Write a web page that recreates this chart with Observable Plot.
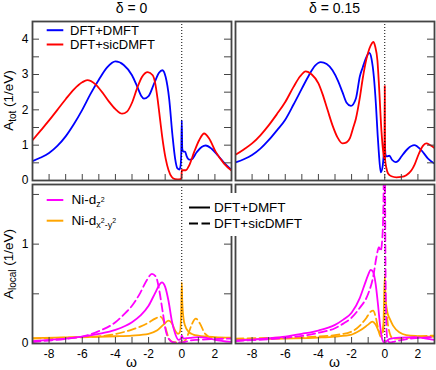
<!DOCTYPE html>
<html><head><meta charset="utf-8">
<script src="https://cdn.jsdelivr.net/npm/d3@7"></script>
<script src="https://cdn.jsdelivr.net/npm/@observablehq/plot@0.6"></script>
<style>
body{margin:0;background:#fff;}
#chart{position:relative;width:436px;height:370px;overflow:hidden;}
#chart svg{position:absolute;left:0;top:0;}
</style></head><body><div id="chart"></div>
<script>
// ---- data: [omega, A] ----
// delta = 0, total spectral function
const tot0_dmft = [[-9,0.55],[-8.5,0.65],[-8,0.78],[-7.5,0.98],[-7,1.25],[-6.5,1.6],[-6,2.0],[-5.5,2.45],[-5,2.85],[-4.5,3.2],[-4,3.37],[-3.5,3.27],[-3,2.98],[-2.68,2.65],[-2.45,2.4],[-2.28,2.32],[-2.0,2.39],[-1.67,2.74],[-1.37,3.05],[-1.17,3.12],[-0.97,2.93],[-0.76,2.32],[-0.56,1.28],[-0.4,0.62],[-0.26,0.34],[-0.14,0.31],[-0.07,0.42],[-0.03,0.8],[0,1.7],[0.03,0.9],[0.1,0.82],[0.2,0.82],[0.3,0.68],[0.45,0.59],[0.6,0.6],[0.9,0.8],[1.2,0.95],[1.45,0.99],[1.8,0.9],[2.2,0.7],[2.6,0.48],[3.0,0.3]];
const tot0_sic = [[-9,1.14],[-8.5,1.42],[-8,1.7],[-7.5,2.0],[-7,2.3],[-6.5,2.58],[-6,2.78],[-5.7,2.84],[-5.2,2.72],[-4.8,2.5],[-4.4,2.24],[-4,2.02],[-3.6,1.89],[-3.3,1.95],[-3.0,2.2],[-2.7,2.6],[-2.4,2.93],[-2.05,3.07],[-1.75,2.98],[-1.6,2.75],[-1.46,2.32],[-1.3,1.7],[-1.19,1.28],[-0.97,0.62],[-0.8,0.3],[-0.6,0.1],[-0.4,0.04],[-0.15,0.03],[-0.02,0.06],[0,0.3],[0.05,0.29],[0.25,0.29],[0.45,0.43],[0.75,0.81],[1.05,1.14],[1.35,1.33],[1.65,1.19],[2.05,0.81],[2.55,0.48],[3.0,0.28]];
// delta = 0.15, total spectral function
const tot15_dmft = [[-9,0.51],[-8.5,0.6],[-8,0.72],[-7.5,0.9],[-7,1.14],[-6.5,1.42],[-6,1.72],[-5.5,2.15],[-5,2.6],[-4.57,2.98],[-4.2,3.25],[-3.86,3.35],[-3.5,3.3],[-3.15,3.12],[-2.8,2.8],[-2.55,2.5],[-2.3,2.2],[-2.04,2.11],[-1.74,2.32],[-1.5,2.95],[-1.33,3.2],[-1.1,3.5],[-0.93,3.61],[-0.8,3.45],[-0.65,2.9],[-0.53,2.13],[-0.43,1.3],[-0.36,0.81],[-0.24,0.23],[-0.12,0.43],[-0.04,0.85],[0,1.1],[0.04,0.75],[0.1,0.68],[0.28,0.7],[0.45,0.58],[0.65,0.52],[0.8,0.55],[0.99,0.67],[1.39,0.9],[1.78,1.0],[2.2,0.86],[2.61,0.62],[3.0,0.48]];
const tot15_sic = [[-9,0.73],[-8.5,0.88],[-8,1.05],[-7.5,1.28],[-7,1.56],[-6.5,1.88],[-6,2.22],[-5.5,2.65],[-5.1,2.95],[-4.77,3.09],[-4.4,3.0],[-4.0,2.75],[-3.76,2.46],[-3.45,2.0],[-3.15,1.56],[-2.85,1.22],[-2.55,1.05],[-2.3,1.08],[-2.1,1.2],[-1.9,1.5],[-1.74,1.75],[-1.5,2.35],[-1.33,2.88],[-1.1,3.45],[-0.93,3.73],[-0.78,3.88],[-0.69,3.92],[-0.58,3.8],[-0.44,3.39],[-0.34,2.63],[-0.2,1.41],[-0.08,0.76],[-0.02,0.62],[0,2.68],[0.02,0.6],[0.1,0.35],[0.2,0.2],[0.4,0.12],[0.7,0.09],[1.0,0.1],[1.3,0.15],[1.6,0.28],[1.8,0.45],[2.05,0.75],[2.3,0.98],[2.5,1.05],[2.75,1.0],[3.0,0.92]];
// delta = 0, local orbital spectral functions
const loc0_z2_dmft = [[-9,0.023],[-8,0.037],[-7,0.05],[-6,0.07],[-5,0.097],[-4,0.137],[-3,0.214],[-2.5,0.28],[-2,0.38],[-1.6,0.51],[-1.35,0.59],[-1.2,0.615],[-1.0,0.57],[-0.8,0.43],[-0.6,0.23],[-0.4,0.1],[-0.2,0.037],[-0.05,0.05],[0,0.08],[0.1,0.05],[0.5,0.057],[1.0,0.064],[1.5,0.057],[2,0.037],[3,0.015]];
const loc0_z2_sic = [[-9,0.015],[-8,0.03],[-7,0.047],[-6,0.07],[-5,0.124],[-4,0.214],[-3.5,0.29],[-3,0.38],[-2.5,0.51],[-2.1,0.64],[-1.8,0.7],[-1.55,0.67],[-1.35,0.53],[-1.15,0.32],[-0.95,0.12],[-0.75,0.04],[-0.5,0.012],[0,0.01],[0.5,0.03],[1,0.037],[2,0.045],[3,0.05]];
const loc0_x2_dmft = [[-9,0.055],[-7,0.062],[-5,0.068],[-4,0.073],[-3,0.08],[-2,0.097],[-1.5,0.13],[-1.1,0.19],[-0.8,0.23],[-0.6,0.205],[-0.4,0.13],[-0.22,0.097],[-0.1,0.12],[-0.03,0.35],[0,0.615],[0.03,0.43],[0.1,0.26],[0.2,0.18],[0.4,0.12],[0.7,0.09],[1,0.08],[2,0.065],[3,0.06]];
const loc0_x2_sic = [[-9,0.05],[-7,0.058],[-5,0.072],[-4,0.095],[-3,0.14],[-2.5,0.17],[-2,0.21],[-1.6,0.25],[-1.3,0.27],[-1.1,0.23],[-0.95,0.14],[-0.8,0.06],[-0.6,0.02],[-0.3,0.01],[0,0.01],[0.2,0.03],[0.4,0.1],[0.6,0.19],[0.85,0.25],[1.1,0.2],[1.4,0.1],[1.8,0.06],[2.5,0.055],[3,0.055]];
// delta = 0.15, local orbital spectral functions
const loc15_z2_dmft = [[-9,0.03],[-8,0.04],[-7,0.053],[-6,0.07],[-5,0.097],[-4,0.13],[-3,0.187],[-2.5,0.24],[-2,0.31],[-1.5,0.46],[-1.2,0.6],[-1.0,0.69],[-0.85,0.74],[-0.7,0.72],[-0.55,0.6],[-0.4,0.38],[-0.28,0.18],[-0.15,0.04],[0,0.005],[0.1,0.023],[0.3,0.047],[1,0.06],[1.8,0.065],[2.5,0.05],[3,0.035]];
const loc15_z2_sic = [[-9,0.025],[-8,0.033],[-7,0.043],[-6,0.057],[-5,0.077],[-4,0.107],[-3,0.154],[-2.5,0.2],[-2,0.26],[-1.5,0.36],[-1.0,0.5],[-0.7,0.67],[-0.5,0.87],[-0.35,0.97],[-0.25,0.93],[-0.15,1.05],[-0.08,1.4],[-0.03,2.2],[0,2.6],[0.03,1.2],[0.08,0.3],[0.15,0.05],[0.3,0.01],[0.6,0.02],[1,0.035],[2,0.055],[3,0.065]];
const loc15_x2_dmft = [[-9,0.04],[-6,0.05],[-4,0.06],[-3,0.07],[-2,0.09],[-1.5,0.13],[-1.0,0.19],[-0.75,0.22],[-0.55,0.19],[-0.35,0.12],[-0.2,0.1],[-0.08,0.2],[0,0.68],[0.05,0.45],[0.18,0.3],[0.3,0.25],[0.5,0.18],[0.9,0.11],[1.3,0.085],[2,0.075],[3,0.07]];
const loc15_x2_sic = [[-9,0.05],[-6,0.06],[-4,0.07],[-3,0.085],[-2,0.12],[-1.5,0.18],[-1.1,0.26],[-0.85,0.32],[-0.7,0.33],[-0.55,0.27],[-0.4,0.15],[-0.25,0.07],[-0.1,0.1],[0,0.3],[0.1,0.3],[0.2,0.18],[0.35,0.08],[0.5,0.05],[1,0.05],[2,0.07],[3,0.08]];

// ticks and labels
const xDomain = [-9, 3];
const xTicks = [-8,-7,-6,-5,-4,-3,-2,-1,0,1,2];
const xTickLabels = [-8,-6,-4,-2,0,2];
const yTotDomain = [0, 4.5];
const yTotTicks = [0.5,1,1.5,2,2.5,3,3.5,4];
const yTotLabels = [0,1,2,3,4];
const yLocDomain = [0, 1.6];
const yLocTicks = [0.5,1,1.5];
const yLocLabels = [0,1];
const titles = ["δ = 0", "δ = 0.15"];
const seriesNames = ["DFT+DMFT", "DFT+sicDMFT"];

// ---- layout ----
const W = 436, H = 370;
const FONT = '"Liberation Sans", Arial, Helvetica, sans-serif';
const cols = [[32, 231], [235, 434]];
const rows = [[21, 180], [184, 343]];
const FRAME = "#444";
const BLUE = "#0000ff", RED = "#ff0000", MAG = "#ff00ff", ORA = "#ffa500";
const DASH = "8,4";

function panel(ci, ri, yDomain, yTicks, yLabels, series) {
  const [x0, x1] = cols[ci], [y0, y1] = rows[ri];
  const iw = x1 - x0, ih = y1 - y0;
  const marks = [];
  for (const s of series) {
    marks.push(Plot.line(s.data, {x: d => d[0], y: d => d[1], stroke: s.color, strokeWidth: 1.8,
      strokeDasharray: s.dash || null, curve: "monotone-x", clip: true}));
  }
  marks.push(Plot.ruleX([0], {stroke: "#000", strokeWidth: 1, strokeDasharray: "1,2"}));
  marks.push(Plot.tickX(xTicks, {x: d => d, insetTop: ih - 6, stroke: FRAME, strokeWidth: 1}));
  if (ci === 0) marks.push(Plot.tickY(yTicks, {y: d => d, insetRight: iw - 7, stroke: FRAME, strokeWidth: 1}));
  marks.push(Plot.tickY(yTicks, {y: d => d, insetLeft: iw - 7, stroke: FRAME, strokeWidth: 1}));
  if (ci === 0) marks.push(Plot.axisY(yLabels, {anchor: "left", tickSize: 0, tickPadding: 4, tickFormat: d => String(d), label: null, fontSize: 12}));
  if (ri === 1) marks.push(Plot.axisX(xTickLabels, {anchor: "bottom", tickSize: 0, tickPadding: 6, tickFormat: d => String(d), label: null, fontSize: 12}));
  marks.push(Plot.frame({stroke: FRAME, strokeWidth: 1.8}));
  const svg = Plot.plot({
    width: W, height: H,
    marginLeft: x0, marginRight: W - x1, marginTop: y0, marginBottom: H - y1,
    x: {domain: xDomain, axis: null},
    y: {domain: yDomain, axis: null},
    style: {fontFamily: FONT, fontSize: "12px", background: "transparent", color: "#000"},
    marks
  });
  document.getElementById("chart").appendChild(svg);
}

panel(0, 0, yTotDomain, yTotTicks, yTotLabels, [
  {data: tot0_dmft, color: BLUE}, {data: tot0_sic, color: RED}]);
panel(1, 0, yTotDomain, yTotTicks, yTotLabels, [
  {data: tot15_dmft, color: BLUE}, {data: tot15_sic, color: RED}]);
panel(0, 1, yLocDomain, yLocTicks, yLocLabels, [
  {data: loc0_x2_sic, color: ORA, dash: DASH}, {data: loc0_x2_dmft, color: ORA},
  {data: loc0_z2_sic, color: MAG, dash: DASH}, {data: loc0_z2_dmft, color: MAG}]);
panel(1, 1, yLocDomain, yLocTicks, yLocLabels, [
  {data: loc15_x2_sic, color: ORA, dash: DASH}, {data: loc15_x2_dmft, color: ORA},
  {data: loc15_z2_sic, color: MAG, dash: DASH}, {data: loc15_z2_dmft, color: MAG}]);

// ---- annotations: titles, axis labels, legends ----
const ov = d3.select("#chart").append("svg").attr("width", W).attr("height", H)
  .style("font-family", FONT).style("pointer-events", "none");
titles.forEach((t, i) => ov.append("text").attr("x", (cols[i][0] + cols[i][1]) / 2).attr("y", 12.7)
  .attr("text-anchor", "middle").attr("font-size", 14).text(t));
cols.forEach(c => ov.append("text").attr("x", (c[0] + c[1]) / 2).attr("y", 367)
  .attr("text-anchor", "middle").attr("font-size", 14).text("ω"));
function ylab(cy, sub) {
  const t = ov.append("text").attr("transform", `translate(13,${cy}) rotate(-90)`)
    .attr("text-anchor", "middle").attr("font-size", 13.5);
  t.append("tspan").text("A");
  t.append("tspan").attr("dy", 3).attr("font-size", 10).text(sub);
  t.append("tspan").attr("dy", -3).text(" (1/eV)");
}
ylab(100.5, "tot");
ylab(264, "local");

// legend: total
[[BLUE, seriesNames[0], 30.2], [RED, seriesNames[1], 44.5]].forEach(([c, s, y]) => {
  ov.append("line").attr("x1", 46.7).attr("x2", 63.3).attr("y1", y).attr("y2", y).attr("stroke", c).attr("stroke-width", 2);
  ov.append("text").attr("x", 70).attr("y", y + 4.5).attr("font-size", 13).text(s);
});
// legend: orbitals
function orb(y, color, parts) {
  ov.append("line").attr("x1", 46.7).attr("x2", 63.3).attr("y1", y).attr("y2", y).attr("stroke", color).attr("stroke-width", 2);
  const t = ov.append("text").attr("x", 71.5).attr("y", y + 4).attr("font-size", 13.5);
  t.append("tspan").text("Ni-d");
  parts.forEach(([txt, dy, fs]) => t.append("tspan").attr("dy", dy).attr("font-size", fs).text(txt));
}
orb(200, MAG, [["z", 3, 9], ["2", -5, 7]]);
orb(220.7, ORA, [["x", 3, 9], ["2", -5, 7], ["-y", 5, 9], ["2", -5, 7]]);
// legend: method line styles
ov.append("rect").attr("x", 186).attr("y", 193).attr("width", 110).attr("height", 43).attr("fill", "#fff");
[[null, seriesNames[0], 207.5], ["9,3.5", seriesNames[1], 223.5]].forEach(([d, s, y]) => {
  ov.append("line").attr("x1", 189).attr("x2", 210).attr("y1", y).attr("y2", y).attr("stroke", "#000")
    .attr("stroke-width", 2).attr("stroke-dasharray", d);
  ov.append("text").attr("x", 214).attr("y", y + 4.5).attr("font-size", 13.5).text(s);
});
</script></body></html>
